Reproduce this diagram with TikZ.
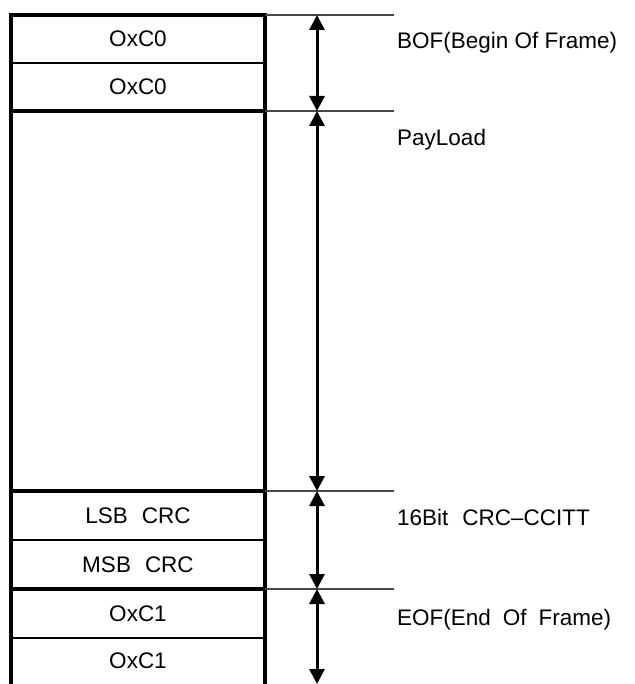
\documentclass[tikz,border=0pt]{standalone}
\usepackage{fontspec}
\setmainfont{Liberation Sans}
\usetikzlibrary{arrows.meta}
\begin{document}
\begin{tikzpicture}[x=1pt,y=-1pt,
  txt/.style={font=\fontsize{22.5}{26}\selectfont},
  cell/.style={txt, minimum width=254pt, minimum height=48pt, inner sep=0pt, outer sep=0pt},
  lbl/.style={txt, anchor=west, inner sep=0pt},
  frame/.style={line width=3.8pt, line join=miter},
  sep/.style={line width=2pt},
  guide/.style={line width=2.6pt, draw=black!72},
  dim/.style={line width=3pt, {Triangle[width=15pt,length=15pt]}-{Triangle[width=15pt,length=15pt]}}
]
\useasboundingbox (0,0) rectangle (634,684);
% cells
\node[cell] (b1) at (138,39) {OxC0};
\node[cell] (b2) at (138,87) {OxC0};
\node[cell, minimum height=380pt] (pl) at (138,301) {};
\node[cell, minimum height=49pt] (l1) at (138,515.5) {LSB\hspace{14pt}CRC};
\node[cell, minimum height=49pt] (m1) at (138,564.5) {MSB\hspace{14pt}CRC};
\node[cell, minimum height=49pt] (e1) at (138,613.5) {OxC1};
\node[cell, minimum height=46pt] (e2) at (138,661) {OxC1};
% outer frame (open at bottom)
\coordinate (fl) at (11,684);
\coordinate (fr) at (265,684);
\draw[frame] (fl) -- (b1.north west) -- (b1.north east) -- (fr);
% separators
\draw[sep] (b1.south west) -- (b1.south east);
\draw[frame] (b2.south west) -- (b2.south east);
\draw[frame] (pl.south west) -- (pl.south east);
\draw[sep] (l1.south west) -- (l1.south east);
\draw[frame] (m1.south west) -- (m1.south east);
\draw[sep] (e1.south west) -- (e1.south east);
% guide lines
\coordinate (h0) at (394,15);
\coordinate (h1) at (394,111);
\coordinate (h2) at (394,491);
\coordinate (h3) at (394,589);
\draw[guide] (b1.north east) -- (h0);
\draw[guide] (b2.south east) -- (h1);
\draw[guide] (pl.south east) -- (h2);
\draw[guide] (m1.south east) -- (h3);
% dimension arrows
\coordinate (a0) at (317,15);
\coordinate (a1) at (317,111);
\coordinate (a2) at (317,491);
\coordinate (a3) at (317,589);
\coordinate (a4) at (317,684);
\draw[dim] (a0) -- (a1);
\draw[dim] (a1) -- (a2);
\draw[dim] (a2) -- (a3);
\draw[dim] (a3) -- (a4);
% labels
\node[lbl] (t0) at (397,43) {BOF(Begin Of Frame)};
\node[lbl] (t1) at (397,140) {PayLoad};
\node[lbl] (t2) at (397,517) {16Bit\hspace{14pt}CRC\textendash CCITT};
\node[lbl] (t3) at (397,620) {EOF(End\hspace{12pt}Of\hspace{12pt}Frame)};
\end{tikzpicture}
\end{document}
